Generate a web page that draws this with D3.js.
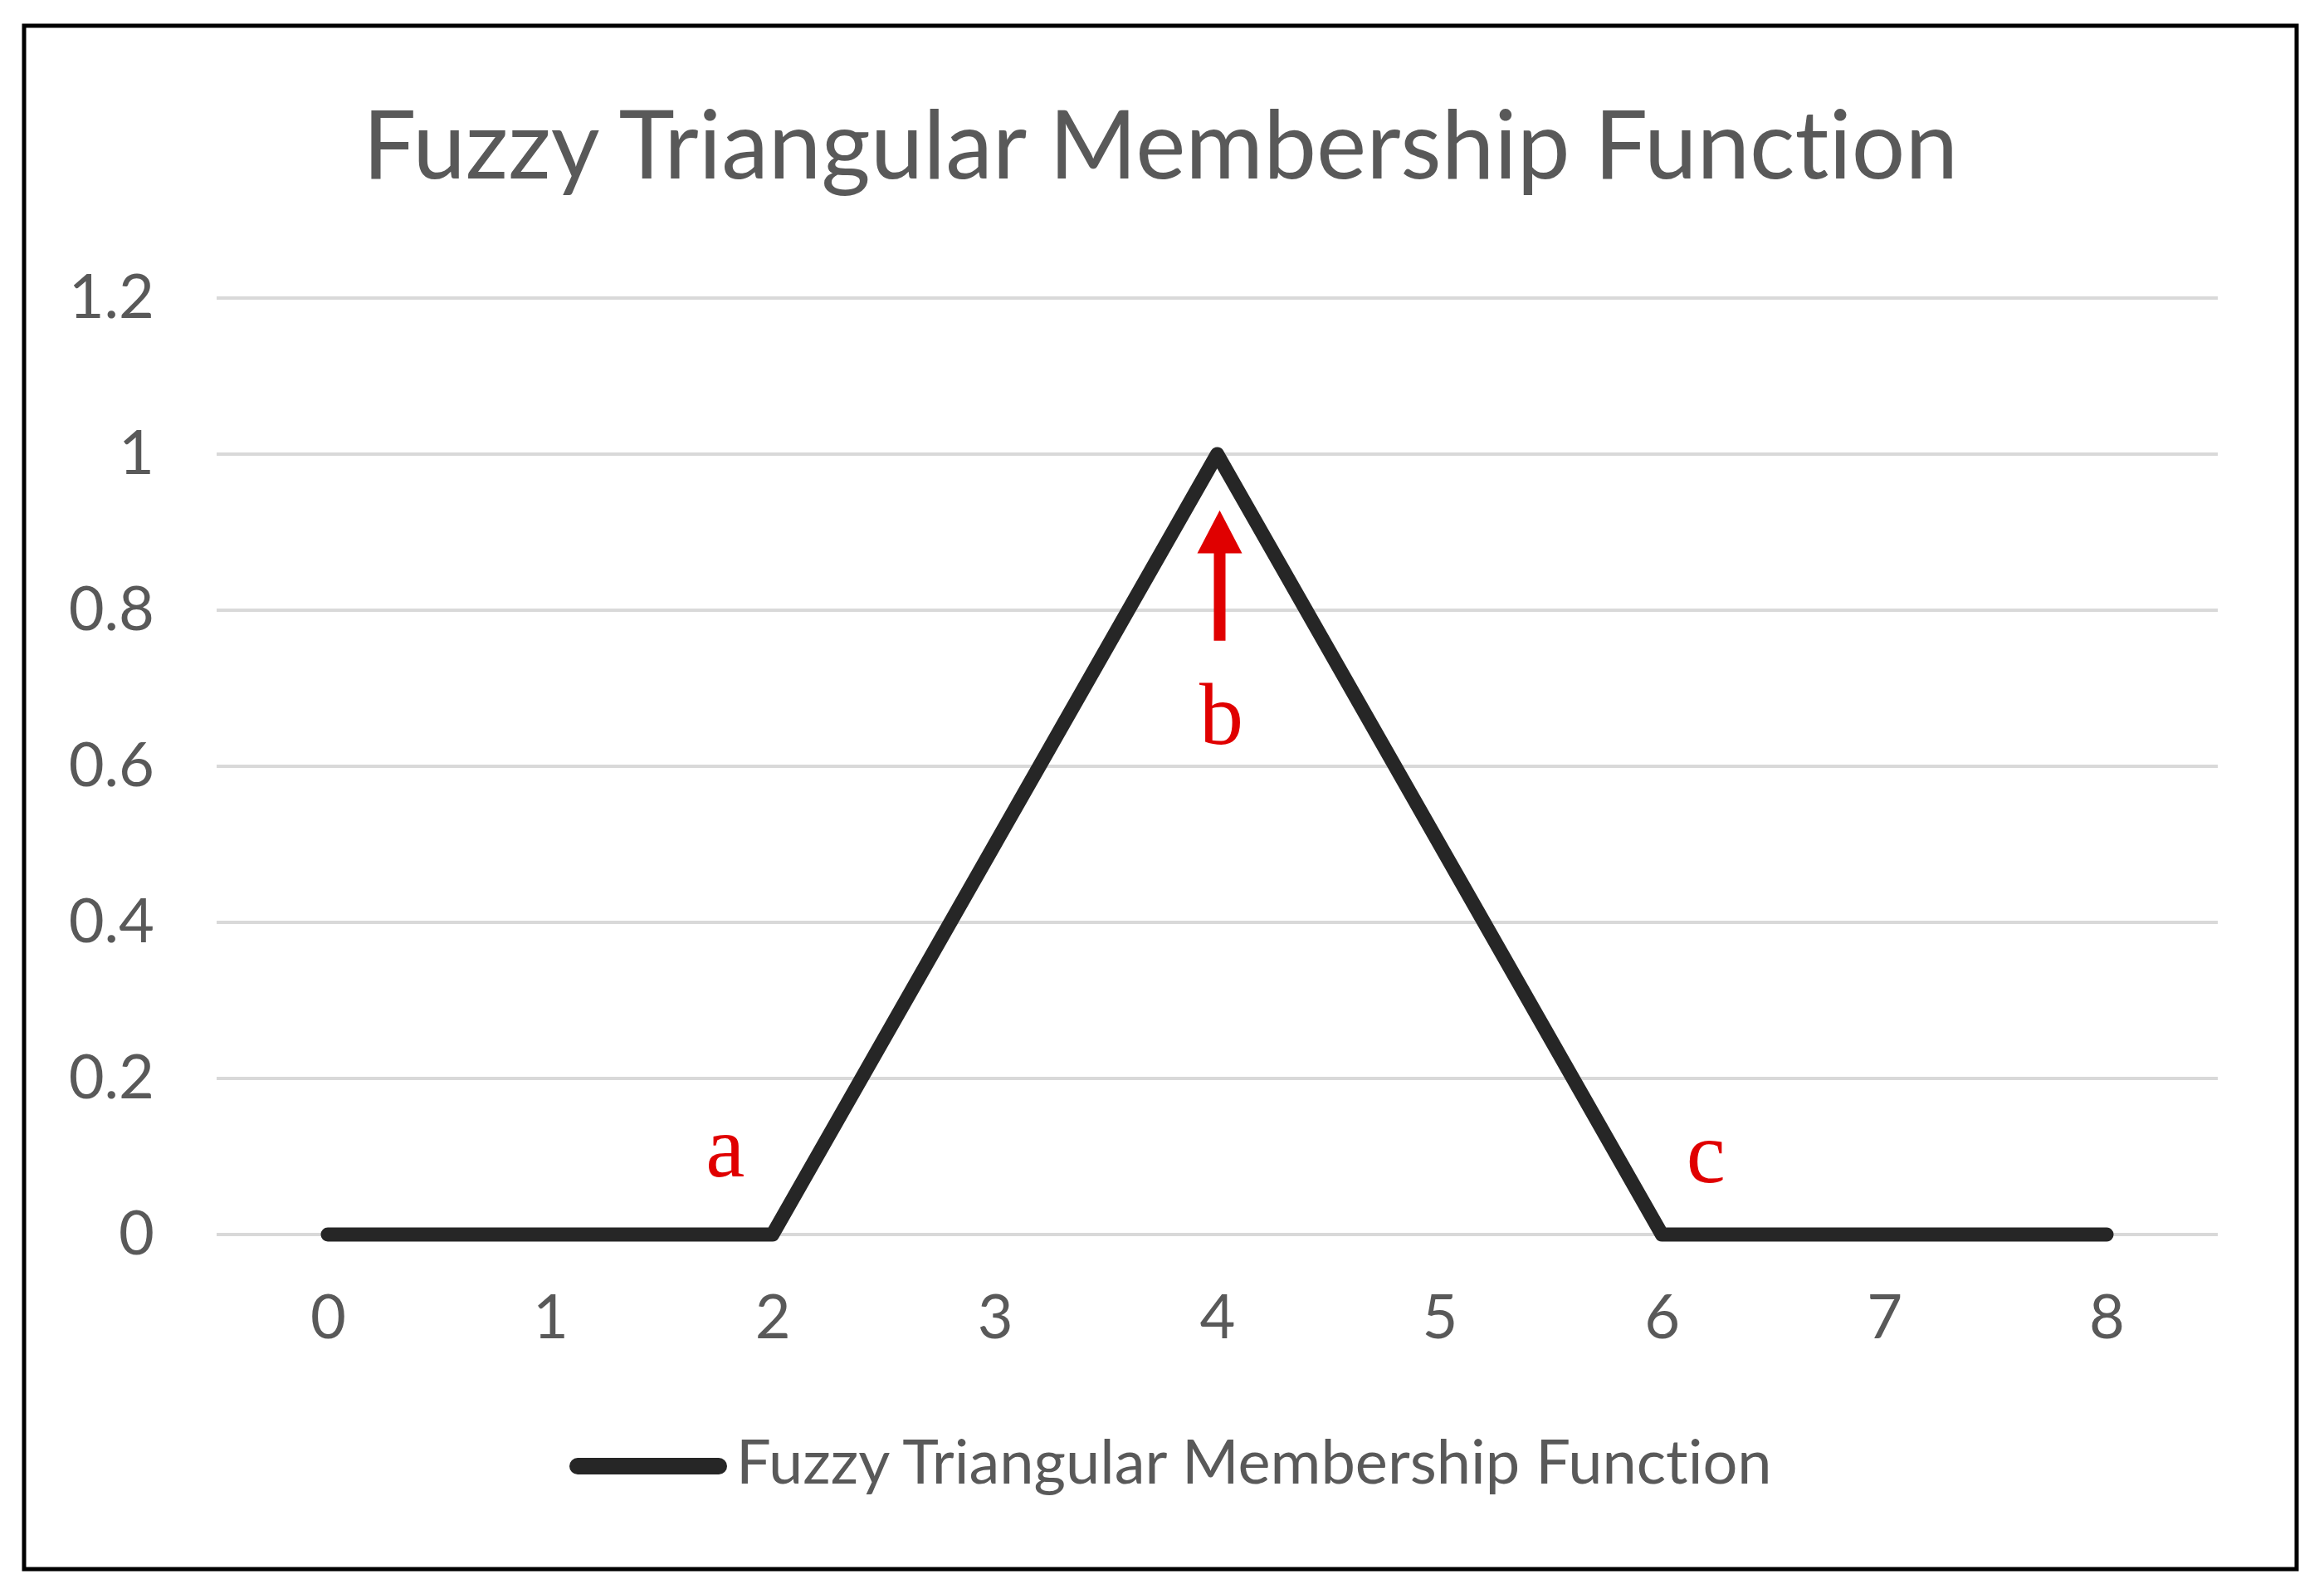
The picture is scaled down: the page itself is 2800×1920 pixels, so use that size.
<!DOCTYPE html>
<html>
<head>
<meta charset="utf-8">
<script src="https://cdn.jsdelivr.net/npm/d3@7"></script>
<style>
  body { margin: 0; background: #fff; }
  svg text { font-variant-ligatures: none; }
</style>
</head>
<body>
<svg width="2800" height="1920"></svg>
<script>
"use strict";

const categories = ["0", "1", "2", "3", "4", "5", "6", "7", "8"];
const membership = [0, 0, 0, 0.5, 1, 0.5, 0, 0, 0];
const yTicks = [0, 0.2, 0.4, 0.6, 0.8, 1, 1.2];
const seriesName = "Fuzzy Triangular Membership Function";
const chartTitle = "Fuzzy Triangular Membership Function";

// red annotation letters: category, value, pixel offset
const notes = [
    {label: "a", cat: "2", v: 0.074, dx: -57},
    {label: "b", cat: "4", v: 0.629, dx: 5},
    {label: "c", cat: "6", v: 0.067, dx: 53}
];

window.addEventListener("load", draw);

function draw() {
    const svg = d3.select("svg");
    const red = "#e00000";
    const textGrey = "#595959";
    const sans = "Lato, 'Open Sans', sans-serif";

    // outer frame
    svg.append("rect")
        .attr("x", 29).attr("y", 31)
        .attr("width", 2738).attr("height", 1859)
        .attr("fill", "#fff")
        .attr("stroke", "#000")
        .attr("stroke-width", 5);

    const x = d3.scalePoint()
        .domain(categories)
        .range([261, 2672])
        .padding(0.5);

    const y = d3.scaleLinear()
        .domain([0, 1.2])
        .range([1487, 359]);

    // gridlines
    svg.append("g")
        .selectAll("line")
        .data(yTicks)
        .join("line")
            .attr("x1", 261)
            .attr("x2", 2672)
            .attr("y1", d => y(d))
            .attr("y2", d => y(d))
            .attr("stroke", "#d9d9d9")
            .attr("stroke-width", 4);

    const yAxis = svg.append("g")
        .attr("transform", "translate(261,0)")
        .call(d3.axisLeft(y).tickValues(yTicks).tickSize(0).tickPadding(75)
            .tickFormat(d => String(+d.toFixed(1))));
    yAxis.select(".domain").remove();
    yAxis.selectAll("text")
        .attr("font-size", 74)
        .attr("font-family", sans)
        .attr("fill", textGrey);

    const xAxis = svg.append("g")
        .attr("transform", `translate(0,${y(0)})`)
        .call(d3.axisBottom(x).tickSize(0).tickPadding(72));
    xAxis.select(".domain").remove();
    xAxis.selectAll("text")
        .attr("font-size", 74)
        .attr("font-family", sans)
        .attr("fill", textGrey);

    // the series
    const line = d3.line()
        .x((d, i) => x(categories[i]))
        .y(d => y(d));

    svg.append("path")
        .datum(membership)
        .attr("d", line)
        .attr("fill", "none")
        .attr("stroke", "#262626")
        .attr("stroke-width", 17)
        .attr("stroke-linejoin", "round")
        .attr("stroke-linecap", "round");

    // title
    svg.append("text")
        .attr("x", 1398)
        .attr("y", 215)
        .attr("text-anchor", "middle")
        .attr("font-family", sans)
        .attr("font-size", 114)
        .attr("fill", textGrey)
        .text(chartTitle);

    // legend
    svg.append("line")
        .attr("x1", 696).attr("x2", 866)
        .attr("y1", 1766).attr("y2", 1766)
        .attr("stroke", "#262626")
        .attr("stroke-width", 20)
        .attr("stroke-linecap", "round");
    svg.append("text")
        .attr("x", 887)
        .attr("y", 1787)
        .attr("font-family", sans)
        .attr("font-size", 74)
        .attr("fill", textGrey)
        .text(seriesName);

    // annotations
    svg.append("g")
        .selectAll("text")
        .data(notes)
        .join("text")
            .attr("x", d => x(d.cat) + d.dx)
            .attr("y", d => y(d.v))
            .attr("text-anchor", "middle")
            .attr("font-family", "'Liberation Serif', 'DejaVu Serif', serif")
            .attr("font-size", 106)
            .attr("fill", red)
            .text(d => d.label);

    // arrow pointing at b
    const ax = x("4") + 3;
    const tipY = y(0.928), baseY = y(0.873), tailY = y(0.761);
    svg.append("line")
        .attr("x1", ax).attr("x2", ax)
        .attr("y1", baseY - 2).attr("y2", tailY)
        .attr("stroke", red)
        .attr("stroke-width", 14);
    svg.append("path")
        .attr("d", `M${ax},${tipY} L${ax + 27},${baseY} L${ax - 27},${baseY} Z`)
        .attr("fill", red);
}
</script>
</body>
</html>
